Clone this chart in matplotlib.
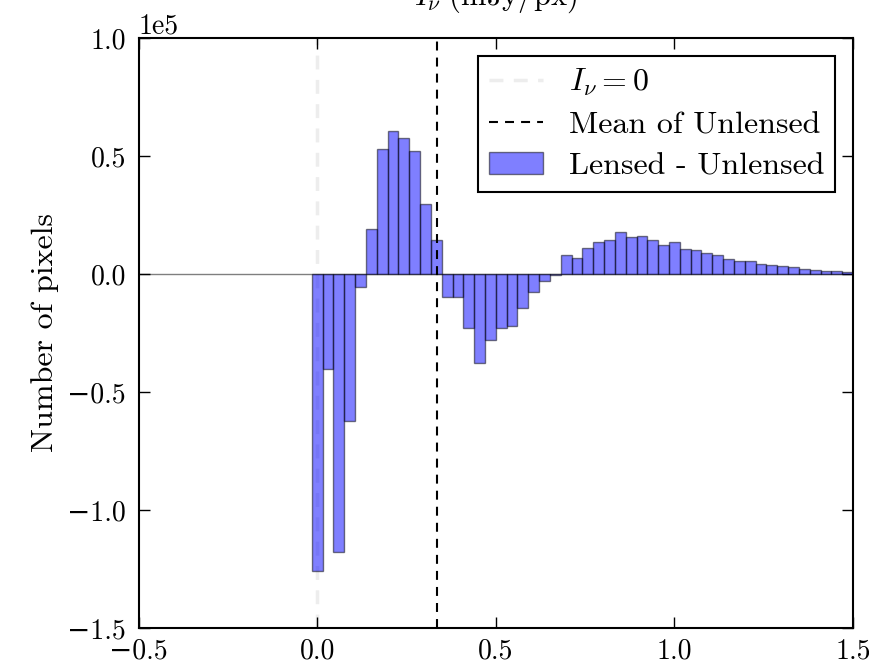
import numpy as np
import matplotlib
matplotlib.use('Agg')
import matplotlib.pyplot as plt

plt.rcParams['font.family'] = ['cmr10', 'DejaVu Serif']
plt.rcParams['mathtext.fontset'] = 'cm'
plt.rcParams['axes.formatter.use_mathtext'] = False

# histogram of (lensed - unlensed) pixel counts, 50 bins
bin_lo = -0.015
bin_hi = 1.5
n_bins = 50
diff_counts = np.array([
    -1.26, -0.404, -1.18, -0.625, -0.053,
    0.19, 0.528, 0.607, 0.575, 0.523, 0.295, 0.144,
    -0.096, -0.096, -0.23, -0.378, -0.28, -0.23, -0.219, -0.143, -0.075, -0.028, -0.003,
    0.08, 0.068, 0.11, 0.135, 0.145, 0.178, 0.157, 0.16, 0.142, 0.125, 0.135, 0.104,
    0.10, 0.089, 0.079, 0.065, 0.056, 0.053, 0.043, 0.039, 0.036, 0.028,
    0.021, 0.018, 0.011, 0.011, 0.008,
]) * 1e5
zero_level = 0.0
mean_unlensed = 0.336

edges = np.linspace(bin_lo, bin_hi, n_bins + 1)
centers = 0.5 * (edges[:-1] + edges[1:])
width = edges[1] - edges[0]

fig = plt.figure(figsize=(8.69, 6.67), dpi=100)
ax = fig.add_axes([0.1594, 0.0585, 0.8222, 0.8845])

ax.axhline(0, color='k', alpha=0.5, lw=1, zorder=1)
ax.axvline(zero_level, color='0.93', ls='--', lw=2.5, dashes=(4, 3),
           label=r'$I_\nu = 0$', zorder=0)
ax.axvline(mean_unlensed, color='k', ls='--', lw=1.5, dashes=(4.3, 3.4),
           label='Mean of Unlensed', zorder=3)
ax.bar(centers, diff_counts, width=width, color='blue', alpha=0.5,
       edgecolor='black', linewidth=1, label='Lensed - Unlensed', zorder=2)

ax.set_xlim(-0.5, 1.5)
ax.set_ylim(-1.5e5, 1.0e5)
ax.set_xticks([-0.5, 0.0, 0.5, 1.0, 1.5])
ax.set_yticks([-1.5e5, -1.0e5, -0.5e5, 0, 0.5e5, 1.0e5])
ax.ticklabel_format(axis='y', style='sci', scilimits=(0, 0))
ax.yaxis.get_offset_text().set_fontsize(20)
ax.tick_params(direction='in', length=8, width=1, top=True, right=True,
               labelsize=20)
ax.tick_params(axis='x', pad=7)
ax.tick_params(axis='y', pad=9)
for s in ax.spines.values():
    s.set_linewidth(1.5)

ax.set_ylabel('Number of pixels', fontsize=23, labelpad=6)

leg = ax.legend(loc='upper right', fontsize=23, fancybox=False, framealpha=1,
                handlelength=1.7, borderaxespad=0.55, borderpad=0.35,
                labelspacing=0.4, handletextpad=0.8)
leg.get_frame().set_edgecolor('black')
leg.get_frame().set_linewidth(1.5)

fig.text(0.57, 1.004, r'$I_\nu\ (\mathrm{mJy/px})$', fontsize=22, ha='center', va='center')

fig.savefig('out.png', dpi=100)
